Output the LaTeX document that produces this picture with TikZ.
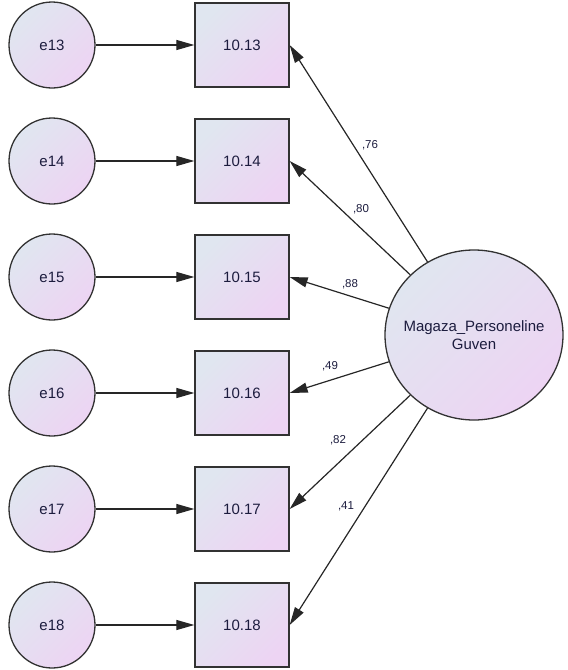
\documentclass[tikz,border=0pt]{standalone}
\usepackage{fontspec}
\setmainfont{Liberation Sans}
\usetikzlibrary{arrows.meta,shapes.geometric}
\definecolor{fillA}{RGB}{224,230,240}
\definecolor{fillB}{RGB}{237,212,243}
\definecolor{inktext}{RGB}{28,28,62}
\definecolor{edge}{RGB}{50,50,50}
\begin{document}
\begin{tikzpicture}[x=1pt,y=-1pt,
  shaded/.style={left color=fillA, right color=fillB, shading angle=45,
                 draw=edge, line width=1.3pt, text=inktext, inner sep=0pt},
  errvar/.style={shaded, circle, minimum size=86pt, font=\fontsize{15}{17}\selectfont},
  obsbox/.style={shaded, rectangle, minimum width=94pt, minimum height=84pt, font=\fontsize{15}{17}\selectfont},
  latent/.style={shaded, ellipse, minimum width=178pt, minimum height=170pt},
  latenttext/.style={text=inktext, align=center, inner sep=0pt, font=\fontsize{15}{18}\selectfont},
  loadpath/.style={draw=black!85, line width=1.2pt, -{Triangle[length=18pt,width=10pt]}},
  wt/.style={text=inktext, font=\fontsize{11.5}{13}\selectfont, inner sep=1pt}
]
\useasboundingbox (0,0) rectangle (568,670);

% latent factor: shaded ellipse with its name set on top
\node[latent] (F) at (474,335) {};
\node[latenttext] (Fname) at (F.center) {Magaza\_Personeline\\Guven};

% indicators with their error terms
\foreach \i/\y in {13/45,14/161,15/277,16/393,17/509,18/625}{
  \node[errvar] (e\i) at (52,\y) {e\i};
  \node[obsbox] (v\i) at (242,\y) {10.\i};
  \draw[loadpath] (e\i) -- (v\i);
  \draw[loadpath] (F) -- (v\i.east);
}

% standardized loadings
\node[wt] (l13) at (370,145) {,76};
\node[wt] (l14) at (361,209) {,80};
\node[wt] (l15) at (350,284) {,88};
\node[wt] (l16) at (330,366) {,49};
\node[wt] (l17) at (338,440) {,82};
\node[wt] (l18) at (346,506) {,41};
\end{tikzpicture}
\end{document}
